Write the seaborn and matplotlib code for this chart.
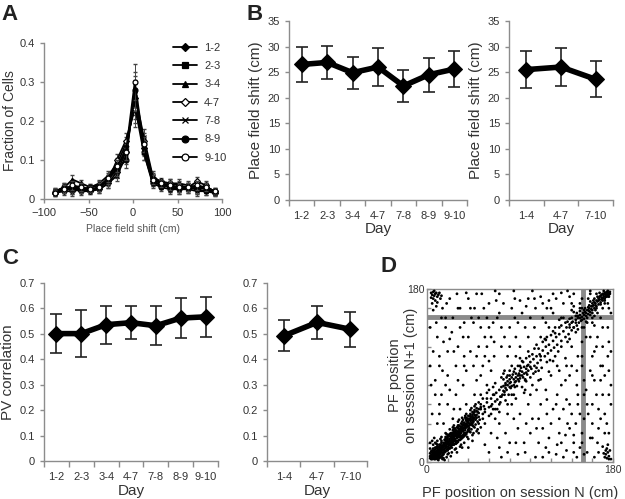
import numpy as np
import pandas as pd
import matplotlib
matplotlib.use("Agg")
import matplotlib.pyplot as plt
import seaborn as sns

sns.set_style("white")
plt.rcParams['font.family'] = ['Liberation Sans', 'DejaVu Sans']

# ---------------- Data ----------------
# Panel A
shift_cm = [-88, -78, -68, -58, -48, -38, -28, -18, -8, 2, 12, 22, 32, 42, 52, 62, 72, 82, 92]
pairs_A = ["1-2", "2-3", "3-4", "4-7", "7-8", "8-9", "9-10"]
frac_12 = [0.015, 0.025, 0.025, 0.02, 0.02, 0.025, 0.04, 0.07, 0.12, 0.26, 0.13, 0.045, 0.035, 0.03, 0.03, 0.03, 0.025, 0.03, 0.02]
frac_23 = [0.018, 0.03, 0.03, 0.025, 0.025, 0.03, 0.05, 0.08, 0.13, 0.25, 0.14, 0.05, 0.04, 0.035, 0.03, 0.025, 0.03, 0.025, 0.018]
frac_34 = [0.02, 0.028, 0.05, 0.04, 0.03, 0.04, 0.06, 0.09, 0.14, 0.24, 0.12, 0.045, 0.035, 0.04, 0.04, 0.035, 0.03, 0.03, 0.02]
frac_47 = [0.015, 0.02, 0.02, 0.025, 0.02, 0.03, 0.045, 0.10, 0.15, 0.23, 0.15, 0.055, 0.045, 0.04, 0.035, 0.03, 0.045, 0.035, 0.015]
frac_78 = [0.02, 0.025, 0.03, 0.03, 0.025, 0.025, 0.04, 0.06, 0.11, 0.27, 0.16, 0.06, 0.04, 0.03, 0.025, 0.025, 0.02, 0.02, 0.015]
frac_89 = [0.018, 0.03, 0.025, 0.025, 0.03, 0.035, 0.05, 0.075, 0.10, 0.28, 0.12, 0.04, 0.03, 0.025, 0.025, 0.03, 0.025, 0.02, 0.018]
frac_910 = [0.015, 0.025, 0.035, 0.03, 0.025, 0.03, 0.055, 0.085, 0.12, 0.30, 0.14, 0.05, 0.04, 0.035, 0.03, 0.03, 0.035, 0.03, 0.02]
sem_A = [0.008, 0.01, 0.012, 0.01, 0.008, 0.01, 0.012, 0.015, 0.02, 0.045, 0.02, 0.012, 0.01, 0.012, 0.012, 0.01, 0.012, 0.01, 0.008]

# Panel B
days_B1 = ["1-2", "2-3", "3-4", "4-7", "7-8", "8-9", "9-10"]
shift_B1 = [26.5, 26.9, 24.9, 26.0, 22.3, 24.5, 25.6]
err_B1 = [3.5, 3.3, 3.1, 3.8, 3.2, 3.3, 3.5]
days_B2 = ["1-4", "4-7", "7-10"]
shift_B2 = [25.5, 26.0, 23.6]
err_B2 = [3.6, 3.8, 3.5]

# Panel C
days_C1 = ["1-2", "2-3", "3-4", "4-7", "7-8", "8-9", "9-10"]
pv_C1 = [0.501, 0.501, 0.536, 0.544, 0.532, 0.562, 0.567]
err_C1 = [0.077, 0.091, 0.075, 0.066, 0.076, 0.078, 0.078]
days_C2 = ["1-4", "4-7", "7-10"]
pv_C2 = [0.492, 0.545, 0.518]
err_C2 = [0.061, 0.066, 0.069]

# Panel D (PF positions, cm)
pf_pts = """
4,5 5,8 6,4 7,9 8,6 9,11 10,7 11,13 12,9 13,15 14,10 15,12 16,18 17,14 18,20 19,16 20,23 21,17 22,19 23,26
24,21 25,28 26,22 27,24 28,31 29,25 30,27 31,34 32,29 33,30 34,37 35,32 36,39 37,33 38,36 39,42 40,37 41,44
42,39 43,41 44,47 45,42 46,49 47,44 48,46 49,52 50,47 52,55 54,50 55,58
5,12 6,14 8,3 9,15 10,3 12,18 13,5 14,20 15,7 16,8 17,23 18,11 19,25 20,12 21,28 22,14 23,30 24,15 25,33 26,18
27,35 28,19 29,36 30,21 31,38 32,23 33,40 34,25 35,44 36,27 37,46 38,29 40,48 42,31 44,52 46,36 48,56 50,40
52,60 54,45
4,3 5,6 6,7 7,5 8,8 9,7 10,10 11,9 12,12 13,11 14,14 15,15 16,13 17,17 18,17 19,19 20,19 21,21 22,22 23,22
24,24 25,25 26,26 27,27 28,27 29,29 30,30 31,30 32,32 33,34 34,33 35,35 36,36 37,38 38,38 39,39 40,41 41,40
42,43 43,44 44,43 45,46 46,46 47,48 48,49 50,51
6,10 7,3 11,5 12,15 3,9 4,11 10,16 14,6 20,27 26,32 30,38 35,28 40,33 45,51 18,24 24,30 28,22 33,27 38,44 42,48
3,6 5,3 7,12 9,4 11,8 13,18 15,4 17,10 19,22 21,14 23,18 25,20 27,31 29,22 31,26 33,36 35,39 37,30 39,45 41,35
6,18 8,20 10,22 12,4 14,26 16,4 18,30 20,8 22,34 24,10 26,38 28,14 30,42 32,16 34,46 36,20 38,50 40,24 42,54
44,28 46,58 48,32 50,62 52,36 54,66 56,40 9,19 11,2 13,24 15,3 19,29 21,9 25,36 27,13 31,44 33,18 37,48 39,26
43,56 45,30 47,60 49,34 3,14 3,20 5,22 7,25 17,2 19,5 23,6 29,10
6,9 7,7 8,10 9,9 10,12 11,11 12,10 13,13 14,12 15,17 16,16 17,19 18,15 19,18 20,21 21,19 22,24 23,20 24,26
25,23 26,28 27,22 28,29 29,27 30,32 31,28 32,34 33,31 34,35 35,33 36,38 37,35 38,40 39,37 40,43 41,38 42,45
43,39 44,46 45,44
3,4 4,7 5,10 6,5 7,11 8,13 9,5 10,14 11,6 12,16 13,8 14,17 15,9 16,20 17,12 18,22 19,13 20,25 21,15 22,27
23,16 24,28 25,18 26,30 27,19 28,33 29,20 30,35 31,23 32,37 33,24 34,39 35,26 36,41 37,28 38,43 39,31 40,45
41,32 42,47 43,34 44,49 45,37 46,52 47,39 48,53 49,42 50,55 51,44 52,57
8,15 10,18 12,6 14,22 16,10 18,26 20,14 22,29 24,18 26,34 28,21 30,36 32,26 34,42 36,30 38,46 40,34 42,50
44,38 46,54
56,52 58,62 60,57 62,66 63,60 65,70 66,63 68,65 70,75 71,68 73,70 74,79 75,73 77,75 78,84 80,78 81,77 82,88
84,80 85,83 86,92 88,86 89,84 90,95 92,90 93,88 94,99 96,93 97,100 98,95 100,104 101,97 103,107 104,100
106,110 107,103 109,112 110,106 112,116 114,110 115,120 117,113 118,122 120,116 122,126 123,119 125,130
126,122 128,133 130,126
58,72 60,48 64,78 68,55 72,88 76,64 80,95 84,70 88,100 92,78 96,108 100,88 104,118 108,95 112,125 116,104
120,132 124,110 128,140 96,84 82,70 70,60 64,55 105,94 115,127 78,90 84,94 86,88 80,86 76,82 90,90 74,86
60,75 62,50 66,82 70,52 74,92 78,60 82,100 86,66 90,108 94,72 98,115 102,80 106,122 110,86 114,128 118,94
122,136 126,100 130,142 134,108 58,66 62,58 67,72 71,62 76,80 79,70 83,91 87,79 91,98 95,86 99,110 103,92
108,118 111,98 116,130 119,106 124,134 127,115 66,55 72,68 77,88 81,83 85,97 89,92 93,104 97,91 102,112 106,98
72,78 74,74 76,77 78,80 80,82 82,79 84,86 86,84 88,90 90,87 92,94 94,92 96,97 98,101 100,99 80,90 85,78
90,100 95,85 75,70
132,136 134,130 135,140 137,133 138,143 140,137 141,146 142,140 144,148 145,142 146,150 147,145 148,153
149,147 150,151 151,155 152,149 153,156 154,152 155,158 156,154 157,160 158,156 159,162 160,158 161,163
162,160 163,165 164,162 165,167 166,164 167,169 168,166 169,171 170,168 171,172 172,170 173,174 174,172
175,176 176,174 177,177 170,175 172,176 174,177 168,173 166,170 164,168 160,165 156,161 152,158 148,157
144,152 140,150 136,146 150,140 155,145 160,150 165,155 170,160 175,165 145,155 158,167 162,170 150,160
142,156 138,149 155,150 160,155 148,160 171,174 173,176 175,178 169,169 167,172 163,163 159,159 157,157
132,150 136,125 140,158 144,135 148,165 152,140 156,170 160,145 164,175 168,150 172,165 176,160 134,145
138,128 142,162 146,138 150,170 154,146 158,175 162,152 128,148 124,140 130,120
160,162 162,166 164,160 166,168 168,164 170,170 172,168 174,174 176,172 177,175 165,172 167,176 169,174
171,178 173,172 175,174 150,148 152,153 154,155 156,158 158,153 146,152 144,145 148,150 153,160 157,163
161,168 163,158 140,145 138,140
4,176 5,174 6,177 7,173 8,175 9,176 10,172 11,174 6,170 8,168 5,165 12,176 13,170 4,171 7,178 10,166 9,162 14,173
172,5 173,8 174,4 175,10 176,6 177,12 174,14 171,9 178,3 176,3 173,12 170,16 175,18
20,60 15,95 30,120 25,150 10,130 40,170 55,160 70,175 90,168 110,172 130,176 140,165 60,140 75,130 45,100
35,80 5,50 8,85 12,110 18,140 22,170 50,120 65,110 85,150 95,140 105,160 115,145 125,170 120,90 135,100
145,80 155,60 160,40 165,20 150,30 140,50 130,20 120,40 110,60 100,30 90,50 80,20 70,40 60,10 50,30 95,10
105,5 115,15 125,8 135,12 145,5 155,10 160,90 170,70 175,110 165,130 150,110 140,120 130,80 125,60 115,75
100,70 90,120 80,140 70,155 60,165 45,145 35,130 28,100 20,115 15,160 32,160 48,175 65,125 85,170 100,150
112,165 138,172 158,178 175,140 168,100 178,80 172,50 166,35 158,25 148,15 138,35 128,45 118,25 108,45
98,60 88,35 78,50 68,25 58,80 48,85 38,60 28,70 18,80 8,70 3,100 3,140 12,60 25,45 40,15 75,95 95,75
110,130 130,150 150,125 162,142 178,155 170,120 160,110 145,95 135,65 122,105 108,85 92,105 78,110 62,95
52,70 42,115 32,140 22,128 14,150 6,158 38,176 58,150 82,160 102,178 122,155 142,140 176,95 164,70 152,45
142,28 132,5 112,35 88,8 72,5 56,18 44,22 16,40 24,30
10,40 14,70 20,90 26,55 30,85 36,100 40,130 46,160 52,140 56,110 62,130 68,150 74,165 80,120 86,130 92,155
98,170 104,140 110,110 116,160 122,175 128,95 134,85 140,100 146,70 152,85 158,95 164,120 170,140 176,125
178,60 172,30 166,10 160,60 154,75 148,50 142,10 136,40 128,30 122,55 116,50 108,20 102,45 96,40 86,20
82,60 76,30 66,45 56,55 46,70 36,110 26,115 16,125 6,115 4,80 9,145 19,165 29,175 43,150 53,175 67,168
84,178 96,162 118,168 136,178 34,15 64,70 118,140 150,100 158,130 168,85 174,40 162,5 150,20 138,60 112,5
78,10 44,40 54,100
12,100 18,150 24,135 30,160 36,145 42,160 50,150 56,130 64,145 72,140 88,145 104,170 112,150 120,160 132,165
142,175 66,178 58,120 48,110 38,95 22,75 12,50 32,55 62,30 70,15 84,45 94,20 106,35 118,10 126,18 134,28
144,40 156,50 166,55 176,70 170,100 162,115 154,130 146,110 138,90 126,70 116,65 106,75 98,130 86,110 72,120
60,105 52,90 162,85 172,90 178,115 152,70 146,60 132,55 176,30 168,45 160,25 152,8 142,20
"""
pf_pairs = [tuple(float(v) for v in p.split(",")) for p in pf_pts.split()]
pf_sessN = [p[0] for p in pf_pairs]
pf_sessN1 = [p[1] for p in pf_pairs]
track_marker_cm = 151

# ---------------- Figure ----------------
W, H = 625, 499
fig = plt.figure(figsize=(W / 100, H / 100), dpi=100)

def rect(x0, x1, y0, y1):
    return [x0 / W, 1 - y1 / H, (x1 - x0) / W, (y1 - y0) / H]

SP = '#8c8c8c'
TXT = '#333333'

def style_axes(ax, box=False):
    for s in ['top', 'right']:
        ax.spines[s].set_visible(box)
    for s in ax.spines.values():
        s.set_color(SP)
        s.set_linewidth(1.0)
    ax.tick_params(bottom=True, left=True, colors=SP, labelcolor=TXT, length=3, width=1, labelsize=8)

# ---- Panel A ----
axA = fig.add_axes(rect(44, 222, 43, 199))
series_A = [frac_12, frac_23, frac_34, frac_47, frac_78, frac_89, frac_910]
mk = ['D', 's', '^', 'D', 'x', 'o', 'o']
ms = [3, 3.5, 3.5, 3, 3.5, 3.5, 3.5]
fc = ['k', 'k', 'k', 'white', 'k', 'k', 'white']
for lab, vals, m, s, f in zip(pairs_A, series_A, mk, ms, fc):
    axA.errorbar(shift_cm, vals, yerr=sem_A, fmt='none', ecolor='#444444', elinewidth=0.7, capsize=1.5)
    sns.lineplot(x=shift_cm, y=vals, ax=axA, color='k', lw=1.3, marker=m, markersize=s,
                 markerfacecolor=f, markeredgecolor='k', markeredgewidth=0.9, label=lab)
axA.set_xlim(-100, 100)
axA.set_ylim(0, 0.4)
axA.set_xticks([-100, -50, 0, 50, 100])
axA.set_yticks([0, 0.1, 0.2, 0.3, 0.4])
axA.set_yticklabels(['0', '0.1', '0.2', '0.3', '0.4'])
style_axes(axA)
axA.set_xlabel('Place field shift (cm)', fontsize=7.5, color='#555555', labelpad=4)
axA.set_ylabel('Fraction of Cells', fontsize=10, color=TXT, labelpad=2)
leg = axA.legend(loc='upper left', bbox_to_anchor=(0.7, 1.03), frameon=False, fontsize=8,
                 handlelength=2.2, labelspacing=0.75, handletextpad=0.6, borderaxespad=0,
                 markerscale=1.4)
for t in leg.get_texts():
    t.set_color(TXT)

# ---- categorical line panels ----
def cat_panel(ax, cats, vals, errs, ylim, yticks, yticklabels, ylabel):
    pos = list(range(len(cats)))
    ax.errorbar(pos, vals, yerr=errs, fmt='none', ecolor='#222222', elinewidth=1.2, capsize=4, capthick=1.2)
    sns.lineplot(x=pos, y=vals, ax=ax, color='k', lw=4, marker='D', markersize=8,
                 markeredgecolor='k')
    ax.set_xlim(-0.5, len(cats) - 0.5)
    ax.set_ylim(*ylim)
    ax.set_xticks([i - 0.5 for i in range(len(cats) + 1)])
    ax.set_xticklabels([])
    ax.set_xticks(pos, minor=True)
    ax.set_xticklabels(cats, minor=True)
    ax.set_yticks(yticks)
    ax.set_yticklabels(yticklabels)
    style_axes(ax)
    ax.tick_params(axis='x', which='minor', bottom=True, length=0, labelsize=8, labelcolor=TXT, pad=8)
    ax.tick_params(axis='x', which='major', length=4)
    ax.set_xlabel('Day', fontsize=11, color=TXT, labelpad=1)
    ax.set_ylabel(ylabel, fontsize=11, color=TXT, labelpad=3)

ytB = [0, 5, 10, 15, 20, 25, 30, 35]
ytlB = [str(v) for v in ytB]
axB1 = fig.add_axes(rect(289, 467, 21, 200))
cat_panel(axB1, days_B1, shift_B1, err_B1, (0, 35), ytB, ytlB, 'Place field shift (cm)')
axB2 = fig.add_axes(rect(509, 613, 21, 200))
cat_panel(axB2, days_B2, shift_B2, err_B2, (0, 35), ytB, ytlB, 'Place field shift (cm)')

ytC = [0, 0.1, 0.2, 0.3, 0.4, 0.5, 0.6, 0.7]
ytlC = ['0', '0.1', '0.2', '0.3', '0.4', '0.5', '0.6', '0.7']
axC1 = fig.add_axes(rect(44, 218, 283, 461))
cat_panel(axC1, days_C1, pv_C1, err_C1, (0, 0.7), ytC, ytlC, 'PV correlation')
axC2 = fig.add_axes(rect(267, 367, 283, 461))
cat_panel(axC2, days_C2, pv_C2, err_C2, (0, 0.7), ytC, ytlC, '')

# ---- Panel D ----
axD = fig.add_axes(rect(427, 613, 289, 462))
axD.axvline(track_marker_cm, color='#8a8a8a', lw=3.5, zorder=1)
axD.axhline(track_marker_cm, color='#8a8a8a', lw=3.5, zorder=1)
sns.scatterplot(x=pf_sessN, y=pf_sessN1, ax=axD, color='k', s=4, edgecolor='none', zorder=3)
axD.set_xlim(0, 180)
axD.set_ylim(0, 180)
style_axes(axD, box=True)
axD.set_xticks(range(0, 181, 20))
axD.set_yticks(range(0, 181, 20))
axD.set_xticklabels(['0'] + [''] * 8 + ['180'])
axD.set_yticklabels(['0'] + [''] * 8 + ['180'])
axD.tick_params(direction='in', length=3, labelsize=7.5, pad=2)
axD.set_xlabel('PF position on session N (cm)', fontsize=10.5, color=TXT, labelpad=8)
axD.set_ylabel('PF position\non session N+1 (cm)', fontsize=10.5, color=TXT)
axD.yaxis.set_label_coords(-0.05, 0.5)

# ---- panel letters ----
for letter, (x, y) in {'A': (10, 14), 'B': (255, 14), 'C': (10, 258), 'D': (389, 267)}.items():
    fig.text(x / W, 1 - y / H, letter, fontsize=16, fontweight='bold', color='#222222',
             ha='center', va='center')

fig.savefig('out.png', dpi=100)
